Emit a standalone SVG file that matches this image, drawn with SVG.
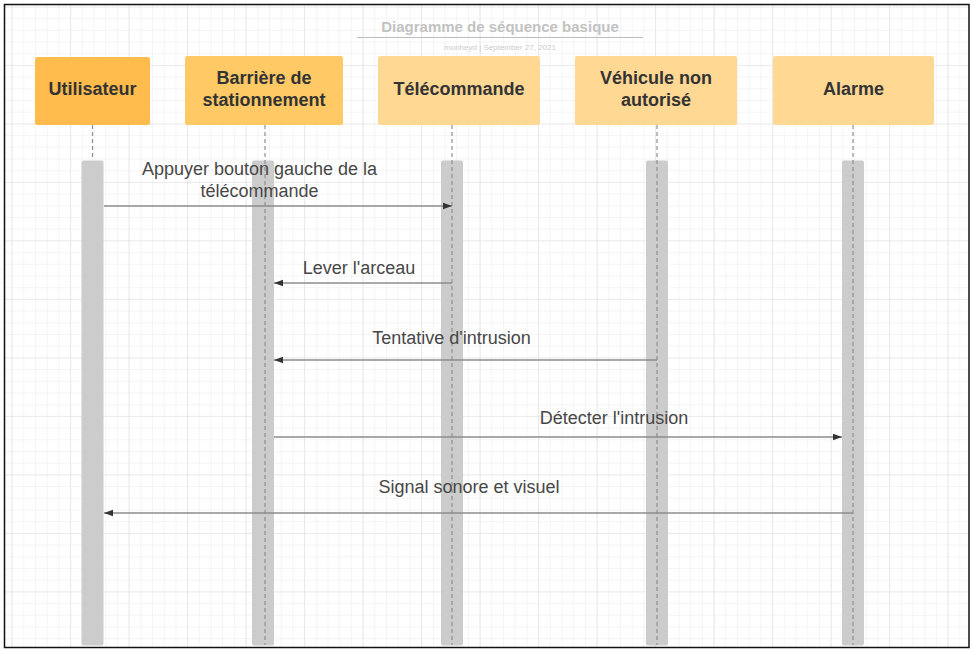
<svg xmlns="http://www.w3.org/2000/svg" width="973" height="650" viewBox="0 0 973 650">
  <defs>
    <pattern id="minor" x="11.6" y="6.4" width="11.7" height="11.7" patternUnits="userSpaceOnUse">
      <path d="M 11.7 0 L 0 0 0 11.7" fill="none" stroke="#ebebeb" stroke-width="1"/>
    </pattern>
    <pattern id="major" x="11.6" y="6.4" width="58.5" height="58.5" patternUnits="userSpaceOnUse">
      <path d="M 58.5 0 L 0 0 0 58.5" fill="none" stroke="#dfdfdf" stroke-width="1.2"/>
    </pattern>
    <marker id="arrow" markerWidth="10" markerHeight="8" refX="9" refY="4" orient="auto" markerUnits="userSpaceOnUse">
      <path d="M0,0.8 L9,4 L0,7.2 Z" fill="#333"/>
    </marker>
    <style>
      .box-label { font-family: "Liberation Sans", Arial, sans-serif; font-size: 18px; font-weight: bold; fill: #333; text-anchor: middle; }
      .msg-label { font-family: "Liberation Sans", Arial, sans-serif; font-size: 18px; fill: #474747; text-anchor: middle; }
      .life { stroke: #8f8f8f; stroke-width: 1.2; stroke-dasharray: 4 3; fill: none; }
      .bar { fill: #cccccc; }
      .msg { stroke: #8c8c8c; stroke-width: 1.5; fill: none; marker-end: url(#arrow); }
    </style>
  </defs>

  <rect x="0" y="0" width="973" height="650" fill="#ffffff"/>
  <rect x="5" y="5" width="963" height="642" fill="url(#minor)"/>
  <rect x="5" y="5" width="963" height="642" fill="url(#major)"/>
  <rect x="4.5" y="4.5" width="964.5" height="643" fill="none" stroke="#111" stroke-width="1.5"/>

  <g id="title">
    <text x="500" y="32" font-family="Liberation Sans, Arial, sans-serif" font-size="15" font-weight="bold" fill="#c2c2c2" text-anchor="middle">Diagramme de séquence basique</text>
    <line x1="357" y1="37.5" x2="643" y2="37.5" stroke="#bdbdbd" stroke-width="1.2"/>
    <text x="500" y="49.5" font-family="Liberation Sans, Arial, sans-serif" font-size="8" fill="#cccccc" text-anchor="middle">monheyd  |  September 27, 2021</text>
  </g>

  <g id="activations">
    <rect class="bar" x="81.5" y="160.5" width="22" height="485" rx="2"/>
    <rect class="bar" x="252" y="160.5" width="22" height="485" rx="2"/>
    <rect class="bar" x="441" y="160.5" width="22" height="485" rx="2"/>
    <rect class="bar" x="646" y="160.5" width="22" height="485" rx="2"/>
    <rect class="bar" x="842" y="160.5" width="22" height="485" rx="2"/>
  </g>

  <g id="lifelines">
    <line class="life" x1="92.5" y1="125" x2="92.5" y2="160"/>
    <line class="life" x1="265" y1="125" x2="265" y2="645"/>
    <line class="life" x1="452" y1="125" x2="452" y2="645"/>
    <line class="life" x1="657" y1="125" x2="657" y2="645"/>
    <line class="life" x1="853" y1="125" x2="853" y2="645"/>
  </g>

  <g id="node-utilisateur">
    <rect x="35" y="57" width="115" height="68" rx="2.5" fill="#ffbb4c"/>
    <text class="box-label" x="92.5" y="95">Utilisateur</text>
  </g>
  <g id="node-barriere">
    <rect x="185" y="56" width="158" height="69" rx="2.5" fill="#ffc966"/>
    <text class="box-label" x="264" y="84">Barrière de</text>
    <text class="box-label" x="264" y="106">stationnement</text>
  </g>
  <g id="node-telecommande">
    <rect x="378" y="56" width="162" height="69" rx="2.5" fill="#ffd894"/>
    <text class="box-label" x="459" y="95">Télécommande</text>
  </g>
  <g id="node-vehicule">
    <rect x="575" y="56" width="162" height="69" rx="2.5" fill="#ffd894"/>
    <text class="box-label" x="656" y="84">Véhicule non</text>
    <text class="box-label" x="656" y="106">autorisé</text>
  </g>
  <g id="node-alarme">
    <rect x="773" y="56" width="161" height="69" rx="2.5" fill="#ffd894"/>
    <text class="box-label" x="853.5" y="95">Alarme</text>
  </g>

  <g id="connectors">
    <line class="msg" x1="104" y1="206" x2="452" y2="206"/>
    <line class="msg" x1="452" y1="283" x2="274" y2="283"/>
    <line class="msg" x1="657" y1="360" x2="274" y2="360"/>
    <line class="msg" x1="274" y1="437" x2="842" y2="437"/>
    <line class="msg" x1="853" y1="513" x2="104" y2="513"/>
  </g>

  <g id="message-labels">
    <text class="msg-label" x="259.5" y="175">Appuyer bouton gauche de la</text>
    <text class="msg-label" x="259.5" y="197">télécommande</text>
    <text class="msg-label" x="359" y="274">Lever l'arceau</text>
    <text class="msg-label" x="451.5" y="344">Tentative d'intrusion</text>
    <text class="msg-label" x="614" y="424">Détecter l'intrusion</text>
    <text class="msg-label" x="469" y="493">Signal sonore et visuel</text>
  </g>
</svg>
